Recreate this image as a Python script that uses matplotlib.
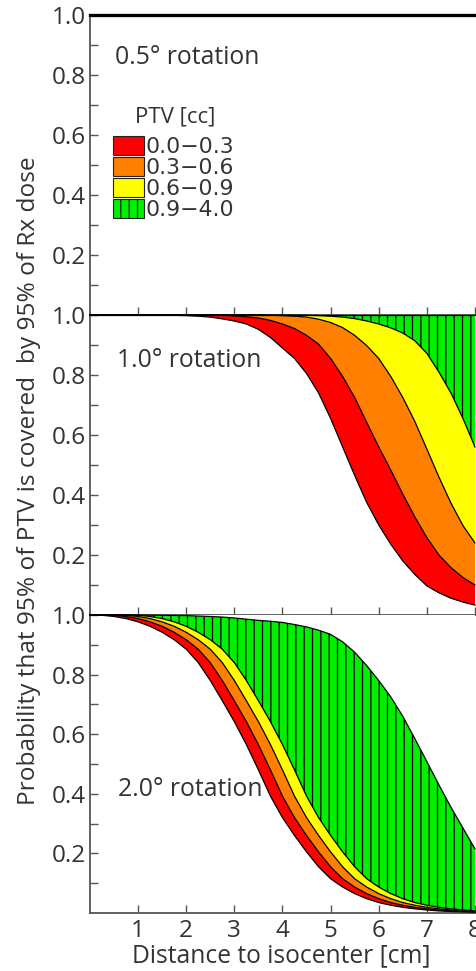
import matplotlib
matplotlib.use("Agg")
import matplotlib.pyplot as plt
import numpy as np
from matplotlib.patches import Patch

# ---------------- data ----------------
distance = [0.0, 0.25, 0.5, 0.75, 1.0, 1.25, 1.5, 1.75, 2.0, 2.25, 2.5, 2.75, 3.0,
            3.25, 3.5, 3.75, 4.0, 4.25, 4.5, 4.75, 5.0, 5.25, 5.5, 5.75, 6.0,
            6.25, 6.5, 6.75, 7.0, 7.25, 7.5, 7.75, 8.0]

# 0.5 deg rotation: every boundary stays at 1.0
rot05 = [1.0] * 33

# 1.0 deg rotation boundaries
rot10_c1 = [1.0, 1.0, 1.0, 1.0, 1.0, 1.0, 1.0, 0.999, 0.998, 0.996, 0.993, 0.987, 0.980,
            0.970, 0.952, 0.925, 0.890, 0.855, 0.805, 0.740, 0.655, 0.560, 0.465, 0.375, 0.300,
            0.236, 0.180, 0.135, 0.097, 0.074, 0.056, 0.043, 0.033]
rot10_c2 = [1.0, 1.0, 1.0, 1.0, 1.0, 1.0, 1.0, 1.0, 1.0, 1.0, 1.0, 0.999, 0.997,
            0.994, 0.990, 0.982, 0.970, 0.955, 0.932, 0.903, 0.855, 0.795, 0.725, 0.642, 0.560,
            0.483, 0.403, 0.327, 0.258, 0.200, 0.158, 0.125, 0.100]
rot10_c3 = [1.0, 1.0, 1.0, 1.0, 1.0, 1.0, 1.0, 1.0, 1.0, 1.0, 1.0, 1.0, 1.0,
            1.0, 1.0, 0.999, 0.998, 0.996, 0.993, 0.986, 0.975, 0.958, 0.932, 0.898, 0.855,
            0.795, 0.725, 0.645, 0.553, 0.460, 0.373, 0.298, 0.240]
rot10_c4 = [1.0, 1.0, 1.0, 1.0, 1.0, 1.0, 1.0, 1.0, 1.0, 1.0, 1.0, 1.0, 1.0,
            1.0, 1.0, 1.0, 1.0, 0.9995, 0.999, 0.998, 0.996, 0.993, 0.988, 0.980, 0.970,
            0.957, 0.940, 0.914, 0.872, 0.810, 0.740, 0.655, 0.560]
rot10_c5 = [1.0] * 33

# 2.0 deg rotation boundaries
rot20_c1 = [1.0, 0.999, 0.995, 0.988, 0.977, 0.962, 0.942, 0.917, 0.885, 0.840, 0.780, 0.712, 0.642,
            0.565, 0.480, 0.392, 0.320, 0.260, 0.205, 0.155, 0.115, 0.087, 0.065, 0.048, 0.035,
            0.026, 0.019, 0.014, 0.010, 0.007, 0.005, 0.004, 0.003]
rot20_c2 = [1.0, 1.0, 0.999, 0.995, 0.988, 0.977, 0.962, 0.942, 0.917, 0.885, 0.840, 0.780, 0.712,
            0.642, 0.565, 0.480, 0.392, 0.320, 0.260, 0.205, 0.155, 0.115, 0.087, 0.065, 0.048,
            0.035, 0.026, 0.019, 0.014, 0.010, 0.007, 0.005, 0.004]
rot20_c3 = [1.0, 1.0, 1.0, 0.999, 0.995, 0.988, 0.977, 0.962, 0.942, 0.917, 0.885, 0.840, 0.780,
            0.712, 0.642, 0.565, 0.480, 0.392, 0.320, 0.260, 0.205, 0.155, 0.115, 0.087, 0.065,
            0.048, 0.035, 0.026, 0.019, 0.014, 0.010, 0.007, 0.005]
rot20_c4 = [1.0, 1.0, 1.0, 1.0, 0.999, 0.995, 0.988, 0.977, 0.962, 0.942, 0.917, 0.885, 0.840,
            0.780, 0.712, 0.642, 0.565, 0.480, 0.392, 0.320, 0.260, 0.205, 0.155, 0.115, 0.087,
            0.065, 0.048, 0.035, 0.026, 0.019, 0.014, 0.010, 0.007]
rot20_c5 = [1.0, 1.0, 1.0, 1.0, 1.0, 0.9995, 0.999, 0.9985, 0.998, 0.9965, 0.995, 0.993, 0.990,
            0.986, 0.982, 0.979, 0.975, 0.968, 0.960, 0.949, 0.935, 0.910, 0.875, 0.830, 0.780,
            0.725, 0.660, 0.585, 0.508, 0.430, 0.355, 0.285, 0.215]

panel_labels = ["0.5\u00b0 rotation", "1.0\u00b0 rotation", "2.0\u00b0 rotation"]
label_pos = [(0.52, 0.86), (0.56, 0.847), (0.58, 0.413)]
ptv_title = "PTV [cc]"
ptv_bins = ["0.0\u22120.3", "0.3\u22120.6", "0.6\u22120.9", "0.9\u22124.0"]
band_colors = ["#ff0000", "#ff8000", "#ffff00", "#00f000"]
yticks_major = [0.2, 0.4, 0.6, 0.8, 1.0]
yticks_minor = [0.1, 0.3, 0.5, 0.7, 0.9]
xticks = [1, 2, 3, 4, 5, 6, 7, 8]

panels = [
    [rot05, rot05, rot05, rot05, rot05],
    [rot10_c1, rot10_c2, rot10_c3, rot10_c4, rot10_c5],
    [rot20_c1, rot20_c2, rot20_c3, rot20_c4, rot20_c5],
]

# ---------------- style ----------------
plt.rcParams['font.family'] = ['Open Sans', 'DejaVu Sans']
plt.rcParams['hatch.color'] = 'black'
plt.rcParams['hatch.linewidth'] = 0.9
text_col = '#333333'
spine_col = '#555555'

W, H = 477, 971
fig = plt.figure(figsize=(W / 100, H / 100), dpi=100)

left = 90 / W
width = (475 - 90) / W
rects = [(15, 315), (315, 615), (615, 913)]

x = np.array(distance)
axes = []
for i, (top_px, bot_px) in enumerate(rects):
    ax = fig.add_axes([left, 1 - bot_px / H, width, (bot_px - top_px) / H])
    axes.append(ax)
    c = [np.array(v) for v in panels[i]]
    for k in range(3):
        ax.fill_between(x, c[k], c[k + 1], facecolor=band_colors[k], edgecolor='none', lw=0)
    ax.fill_between(x, c[3], c[4], facecolor=band_colors[3], edgecolor='black', lw=0, hatch='||')
    for k in range(5):
        ax.plot(x, c[k], color='black', lw=0.9 if i else 2.2, clip_on=False, zorder=3)
    ax.set_xlim(0, 8)
    ax.set_ylim(0, 1)
    for s in ['top', 'right']:
        ax.spines[s].set_visible(False)
    for s in ['left', 'bottom']:
        ax.spines[s].set_color(spine_col)
        ax.spines[s].set_linewidth(1.3)
    ax.set_yticks(yticks_major)
    ax.set_yticks(yticks_minor, minor=True)
    ax.set_yticklabels([f"{v:.1f}" for v in yticks_major])
    ax.set_xticks(xticks)
    ax.tick_params(axis='both', which='both', direction='in', length=6, width=1,
                   color=spine_col, labelcolor=text_col, labelsize=17.5)
    ax.tick_params(axis='y', pad=3)
    ax.tick_params(axis='x', pad=4)
    if i < 2:
        ax.set_xticklabels([])
    ax.text(label_pos[i][0], label_pos[i][1], panel_labels[i], fontsize=17.8,
            color=text_col, ha='left', va='center', zorder=5)

fig.text(281.5 / W, 1 - 956 / H, "Distance to isocenter [cm]", fontsize=17.7,
         color=text_col, ha='center', va='center')
fig.text(29 / W, 1 - 481 / H, "Probability that 95% of PTV is covered  by 95% of Rx dose",
         rotation=90, fontsize=17.6, color=text_col, ha='center', va='center')

# legend
handles = [Patch(facecolor=band_colors[k], edgecolor='#222222', lw=0.8) for k in range(3)]
handles.append(Patch(facecolor=band_colors[3], edgecolor='#222222', lw=0.8, hatch='||'))
leg = axes[0].legend(handles, ptv_bins, loc='upper left',
                     bbox_to_anchor=((113 - 90) / 385, (315 - 136) / 300),
                     frameon=False, borderpad=0, borderaxespad=0, labelspacing=0,
                     handlelength=1.4, handleheight=0.95, handletextpad=0.1,
                     prop={'family': 'DejaVu Sans', 'size': 15.8})
for t in leg.get_texts():
    t.set_color(text_col)
axes[0].text((175 - 90) / 48, (315 - 117) / 300, ptv_title, fontsize=16,
             color=text_col, ha='center', va='center')

fig.savefig("out.png", dpi=100)
